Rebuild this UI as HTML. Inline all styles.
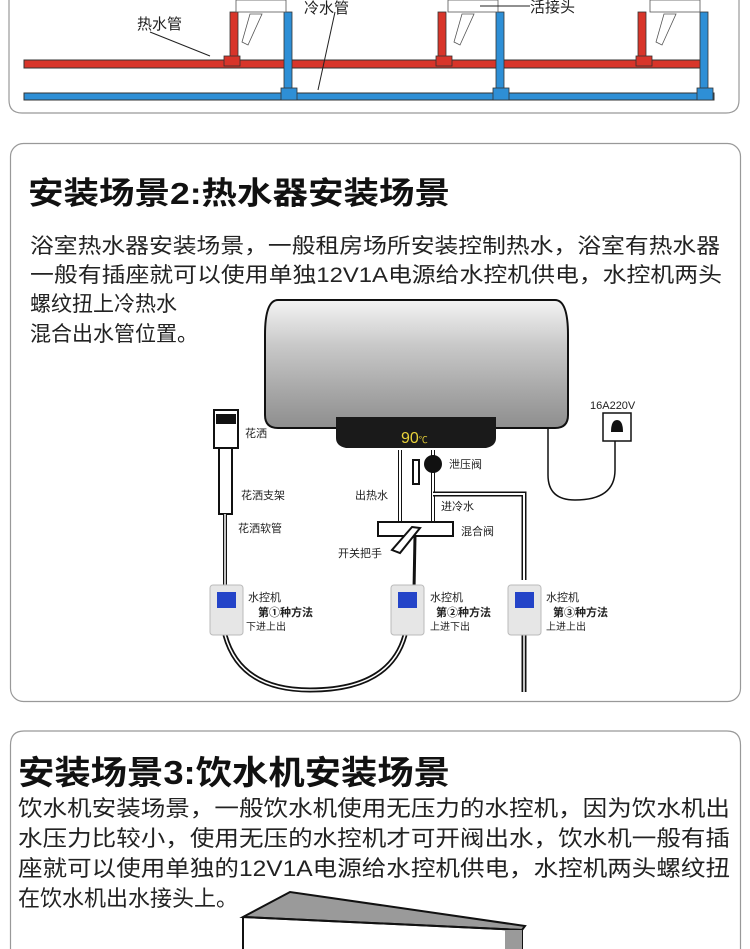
<!DOCTYPE html>
<html><head><meta charset="utf-8"><style>
body{margin:0;background:#fff;}
svg{display:block;font-family:"Liberation Sans","Noto Sans CJK SC",sans-serif;}
</style></head><body>
<svg width="750" height="949" viewBox="0 0 750 949">
<defs>
<linearGradient id="tank" x1="0" y1="0" x2="0" y2="1">
<stop offset="0" stop-color="#f4f4f4"/><stop offset="0.35" stop-color="#c9c9c9"/><stop offset="0.7" stop-color="#a8a8a8"/><stop offset="1" stop-color="#8e8e8e"/>
</linearGradient>
</defs>
<!-- panel 1 -->
<path d="M9,0 V100 Q9,113 22,113 H726 Q739,113 739,100 V0" fill="none" stroke="#999" stroke-width="1.2"/>
<rect x="24" y="60" width="680" height="8" fill="#d8352a" stroke="#333" stroke-width="1"/>
<rect x="24" y="93" width="690" height="7" fill="#2e8fd6" stroke="#333" stroke-width="1"/>
<g fill="#d8352a" stroke="#333" stroke-width="0.8">
<rect x="230" y="12" width="8" height="50"/><rect x="224" y="56" width="16" height="10"/>
<rect x="438" y="12" width="8" height="50"/><rect x="436" y="56" width="16" height="10"/>
<rect x="638" y="12" width="8" height="50"/><rect x="636" y="56" width="16" height="10"/>
</g>
<g fill="#2e8fd6" stroke="#333" stroke-width="0.8">
<rect x="284" y="12" width="8" height="82"/><rect x="281" y="88" width="16" height="12"/>
<rect x="496" y="12" width="8" height="82"/><rect x="493" y="88" width="16" height="12"/>
<rect x="700" y="12" width="8" height="82"/><rect x="697" y="88" width="16" height="12"/>
</g>
<g fill="#fff" stroke="#555" stroke-width="0.8">
<rect x="236" y="0" width="50" height="12"/><path d="M250,14 L262,14 L248,45 L242,42Z"/>
<rect x="448" y="0" width="50" height="12"/><path d="M462,14 L474,14 L460,45 L454,42Z"/>
<rect x="650" y="0" width="50" height="12"/><path d="M664,14 L676,14 L662,45 L656,42Z"/>
</g>
<line x1="150" y1="32" x2="210" y2="56" stroke="#222" stroke-width="1"/>
<line x1="335" y1="12" x2="318" y2="90" stroke="#222" stroke-width="1"/>
<line x1="480" y1="6" x2="530" y2="6" stroke="#222" stroke-width="1"/>
<text x="137" y="29" font-size="15" fill="#222">热水管</text>
<text x="304" y="13" font-size="15" fill="#222">冷水管</text>
<text x="530" y="12" font-size="15" fill="#222">活接头</text>

<!-- panel 2 -->
<rect x="10.5" y="143.5" width="730" height="558" rx="13" fill="none" stroke="#999" stroke-width="1.2"/>
<text x="28" y="204" font-size="31" font-weight="bold" fill="#111" textLength="422" lengthAdjust="spacingAndGlyphs">安装场景2:热水器安装场景</text>
<g font-size="21" fill="#222">
<text x="30" y="253" textLength="690" lengthAdjust="spacingAndGlyphs">浴室热水器安装场景，一般租房场所安装控制热水，浴室有热水器</text>
<text x="30" y="282" textLength="692" lengthAdjust="spacingAndGlyphs">一般有插座就可以使用单独12V1A电源给水控机供电，水控机两头</text>
<text x="30" y="311">螺纹扭上冷热水</text>
<text x="30" y="341">混合出水管位置。</text>
</g>
<!-- tank -->
<path d="M278,300 H555 Q568,300 568,335 V415 Q568,428 555,428 H278 Q265,428 265,415 V335 Q265,300 278,300Z" fill="url(#tank)" stroke="#111" stroke-width="2"/>
<path d="M336,417 H496 V438 Q496,446 486,448 H346 Q336,446 336,438Z" fill="#1a1a1a"/>
<text x="401" y="443" font-size="16" fill="#e8d23a">90<tspan font-size="9">℃</tspan></text>
<path d="M548,428 V475 Q548,500 575,500 Q615,500 615,470 V440" fill="none" stroke="#111" stroke-width="1.5"/>
<rect x="603" y="413" width="28" height="28" fill="#fff" stroke="#111" stroke-width="1.5"/>
<path d="M611,432 Q611,420 617,420 Q623,420 623,432Z" fill="#111"/>
<text x="590" y="409" font-size="11" fill="#222">16A220V</text>
<!-- pipes -->
<g fill="none" stroke="#111" stroke-width="4"><line x1="400" y1="450" x2="400" y2="522"/><line x1="433" y1="450" x2="433" y2="522"/></g>
<g fill="none" stroke="#fff" stroke-width="2"><line x1="400" y1="450" x2="400" y2="522"/><line x1="433" y1="450" x2="433" y2="522"/></g>
<path d="M433,494 H524 V580" fill="none" stroke="#111" stroke-width="5"/>
<path d="M433,494 H524 V580" fill="none" stroke="#fff" stroke-width="2"/>
<circle cx="433" cy="464" r="9" fill="#111"/><rect x="413" y="460" width="6" height="24" fill="#fff" stroke="#111" stroke-width="2"/>
<rect x="378" y="522" width="75" height="14" fill="#fff" stroke="#111" stroke-width="2"/>
<path d="M412,527 L420,528 L400,553 L392,550Z" fill="#fff" stroke="#111" stroke-width="2"/>
<line x1="415" y1="536" x2="414" y2="590" stroke="#111" stroke-width="3"/>
<!-- shower -->
<rect x="214" y="410" width="24" height="38" fill="#fff" stroke="#111" stroke-width="2"/>
<rect x="216" y="414" width="20" height="10" fill="#111"/>
<rect x="219" y="448" width="13" height="66" fill="#fff" stroke="#111" stroke-width="2"/>
<line x1="225" y1="514" x2="225" y2="590" stroke="#111" stroke-width="4"/>
<line x1="225" y1="514" x2="225" y2="590" stroke="#fff" stroke-width="1.5"/>
<!-- loop pipes -->
<path d="M225,635 Q240,690 310,690 Q390,690 405,635" fill="none" stroke="#111" stroke-width="5"/>
<path d="M225,635 Q240,690 310,690 Q390,690 405,635" fill="none" stroke="#fff" stroke-width="1.5"/>
<line x1="524" y1="635" x2="524" y2="692" stroke="#111" stroke-width="5"/>
<line x1="524" y1="635" x2="524" y2="692" stroke="#fff" stroke-width="1.5"/>
<!-- controllers -->
<g>
<rect x="210" y="585" width="33" height="50" rx="3" fill="#e6e6e6" stroke="#bbb"/><rect x="217" y="592" width="19" height="16" fill="#2444c8"/>
<rect x="391" y="585" width="33" height="50" rx="3" fill="#e6e6e6" stroke="#bbb"/><rect x="398" y="592" width="19" height="16" fill="#2444c8"/>
<rect x="508" y="585" width="33" height="50" rx="3" fill="#e6e6e6" stroke="#bbb"/><rect x="515" y="592" width="19" height="16" fill="#2444c8"/>
</g>
<g font-size="11" fill="#222">
<text x="245" y="437">花洒</text>
<text x="241" y="499">花洒支架</text>
<text x="238" y="532">花洒软管</text>
<text x="355" y="499">出热水</text>
<text x="449" y="468">泄压阀</text>
<text x="441" y="510">进冷水</text>
<text x="461" y="535">混合阀</text>
<text x="338" y="557">开关把手</text>
<text x="248" y="601">水控机</text><text x="258" y="616" font-weight="bold">第①种方法</text><text x="246" y="630" font-size="10">下进上出</text>
<text x="430" y="601">水控机</text><text x="436" y="616" font-weight="bold">第②种方法</text><text x="430" y="630" font-size="10">上进下出</text>
<text x="546" y="601">水控机</text><text x="553" y="616" font-weight="bold">第③种方法</text><text x="546" y="630" font-size="10">上进上出</text>
</g>

<!-- panel 3 -->
<path d="M10.5,949 V745 Q10.5,731 24,731 H727 Q740.5,731 740.5,745 V949" fill="none" stroke="#999" stroke-width="1.2"/>
<text x="18" y="784" font-size="33" font-weight="bold" fill="#111" textLength="432" lengthAdjust="spacingAndGlyphs">安装场景3:饮水机安装场景</text>
<g font-size="22" fill="#222">
<text x="18" y="816" textLength="712" lengthAdjust="spacingAndGlyphs">饮水机安装场景，一般饮水机使用无压力的水控机，因为饮水机出</text>
<text x="18" y="846" textLength="712" lengthAdjust="spacingAndGlyphs">水压力比较小，使用无压的水控机才可开阀出水，饮水机一般有插</text>
<text x="18" y="876" textLength="712" lengthAdjust="spacingAndGlyphs">座就可以使用单独的12V1A电源给水控机供电，水控机两头螺纹扭</text>
<text x="18" y="906">在饮水机出水接头上。</text>
</g>
<path d="M243,917 L290,892 L525,926 L522,930 Z" fill="#9a9a9a" stroke="#111" stroke-width="2"/>
<path d="M243,917 V949 M243,917 L522,930 V949" fill="none" stroke="#111" stroke-width="2"/>
<rect x="505" y="930" width="17" height="19" fill="#9a9a9a"/>
</svg>
</body></html>
